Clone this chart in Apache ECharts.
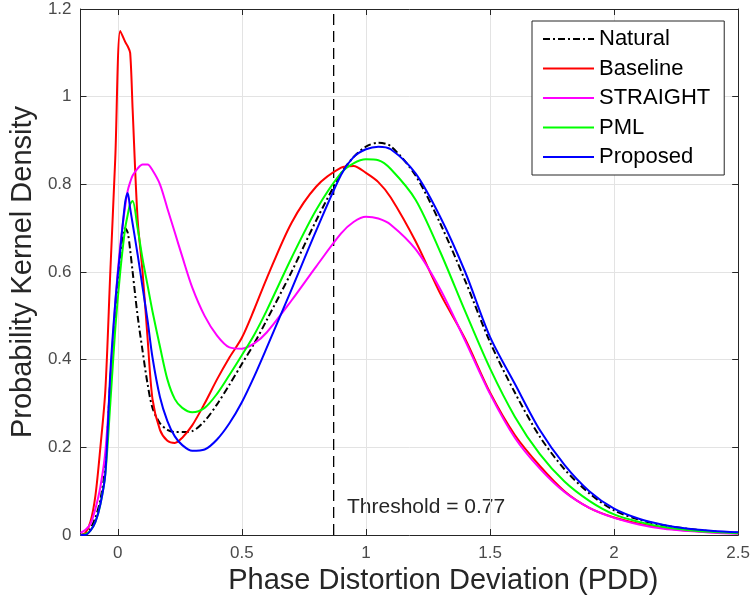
<!DOCTYPE html>
<html><head><meta charset="utf-8">
<script src="https://cdn.jsdelivr.net/npm/echarts@6/dist/echarts.min.js"></script>
<style>html,body{margin:0;padding:0;background:#fff}#c{width:753px;height:608px}</style>
</head><body><div id="c"></div>
<script>
const xs = [-0.15,-0.13,-0.11,-0.09,-0.07,-0.05,-0.03,-0.01,0.01,0.03,0.04,0.05,0.06,0.08,0.1,0.12,0.14,0.17,0.2,0.23,0.26,0.3,0.35,0.4,0.45,0.5,0.55,0.6,0.7,0.8,0.9,0.95,1.0,1.05,1.1,1.2,1.3,1.4,1.5,1.6,1.7,1.8,1.9,2.0,2.1,2.2,2.3,2.4,2.5];
const natural  = [0,0.003,0.015,0.04,0.08,0.16,0.35,0.5,0.64,0.7,0.69,0.65,0.6,0.5,0.42,0.345,0.29,0.255,0.24,0.235,0.235,0.237,0.26,0.298,0.343,0.39,0.437,0.49,0.6,0.718,0.825,0.862,0.886,0.895,0.887,0.82,0.71,0.58,0.44,0.325,0.225,0.15,0.095,0.056,0.035,0.022,0.014,0.008,0.005];
const baseline = [0,0.005,0.03,0.09,0.2,0.33,0.6,0.86,1.15,1.125,1.115,1.1,0.97,0.72,0.6,0.45,0.31,0.24,0.215,0.21,0.222,0.25,0.3,0.355,0.405,0.45,0.515,0.585,0.712,0.795,0.838,0.842,0.826,0.805,0.77,0.67,0.55,0.447,0.325,0.228,0.158,0.1,0.062,0.04,0.026,0.016,0.01,0.006,0.004];
const straight = [0.005,0.012,0.025,0.06,0.11,0.19,0.35,0.53,0.66,0.75,0.785,0.805,0.82,0.836,0.845,0.845,0.832,0.8,0.745,0.69,0.635,0.565,0.5,0.455,0.428,0.425,0.437,0.462,0.535,0.613,0.688,0.714,0.726,0.722,0.708,0.652,0.56,0.443,0.322,0.222,0.152,0.098,0.062,0.039,0.024,0.014,0.009,0.005,0.003];
const pml      = [0,0.002,0.01,0.03,0.07,0.14,0.3,0.47,0.6,0.7,0.73,0.755,0.762,0.7,0.63,0.57,0.51,0.43,0.355,0.31,0.29,0.28,0.29,0.322,0.365,0.41,0.457,0.512,0.632,0.742,0.826,0.848,0.857,0.855,0.835,0.765,0.645,0.51,0.38,0.27,0.185,0.122,0.078,0.047,0.03,0.018,0.011,0.007,0.004];
const proposed = [0,0,0.01,0.03,0.07,0.14,0.37,0.53,0.65,0.76,0.78,0.745,0.71,0.64,0.565,0.49,0.405,0.315,0.26,0.225,0.205,0.192,0.195,0.218,0.255,0.303,0.362,0.427,0.56,0.695,0.822,0.862,0.88,0.886,0.88,0.825,0.725,0.6,0.452,0.345,0.24,0.16,0.1,0.06,0.037,0.023,0.014,0.009,0.006];
const names = ['Natural','Baseline','STRAIGHT','PML','Proposed'];
const colors = ['#000000','#ff0000','#ff00ff','#00ff00','#0000ff'];
const thresholdX = 0.87;
const thresholdText = 'Threshold = 0.77';

const FONT = '"Liberation Sans", Arial, sans-serif';
const all = [natural, baseline, straight, pml, proposed];
const series = all.map((ys, i) => ({
  name: names[i], type: 'line', symbol: 'none', smooth: 0.3,
  data: xs.map((x, j) => [x, ys[j]]),
  lineStyle: { color: colors[i], width: 2, type: i === 0 ? [7,3,2,3] : 'solid' },
  itemStyle: { color: colors[i] },
  z: 3 + i
}));
series.unshift({
  name: 'threshold', type: 'line', symbol: 'none', silent: true,
  data: [[thresholdX, 0], [thresholdX, 1.2]],
  lineStyle: { color: '#000', width: 1.3, type: [11, 6] }, z: 2
});

const axisLineStyle = { show: true, onZero: false, lineStyle: { color: '#262626', width: 1 } };
const tickStyle = { show: true, inside: true, length: 6, lineStyle: { color: '#262626' } };
const chart = echarts.init(document.getElementById('c'));
chart.setOption({
  animation: false,
  backgroundColor: '#fff',
  grid: { left: 77, right: 14, top: 9, bottom: 73, containLabel: false },
  legend: {
    data: names, orient: 'vertical', left: 532, top: 21,
    itemWidth: 51, itemHeight: 14, itemGap: 7.5,
    padding: [7, 14, 7, 10],
    itemStyle: { opacity: 0 },
    backgroundColor: '#fff', borderColor: '#262626', borderWidth: 1,
    textStyle: { fontFamily: FONT, fontSize: 22, color: '#000' }
  },
  xAxis: [{
    type: 'value', min: -0.15, max: 2.5, minInterval: 0.5, maxInterval: 0.5,
    name: 'Phase Distortion Deviation (PDD)', nameLocation: 'middle', nameGap: 28,
    nameTextStyle: { fontFamily: FONT, fontSize: 29, color: '#262626', padding: [0, 0, 0, 68] },
    axisLine: axisLineStyle, axisTick: tickStyle,
    axisLabel: { showMinLabel: false, fontFamily: FONT, fontSize: 17, color: '#4a4a4a', margin: 10 },
    splitLine: { show: true, lineStyle: { color: '#e3e3e3', width: 1 } }
  }, {
    type: 'value', position: 'top', min: -0.15, max: 2.5, minInterval: 0.5, maxInterval: 0.5,
    axisLine: axisLineStyle, axisTick: tickStyle,
    axisLabel: { show: false }, splitLine: { show: false }
  }],
  yAxis: [{
    type: 'value', min: 0, max: 1.2, interval: 0.2,
    name: 'Probability Kernel Density', nameLocation: 'middle', nameGap: 28,
    nameTextStyle: { fontFamily: FONT, fontSize: 29, color: '#262626' },
    axisLine: axisLineStyle, axisTick: tickStyle,
    axisLabel: { fontFamily: FONT, fontSize: 17, color: '#4a4a4a', margin: 9 },
    splitLine: { show: true, lineStyle: { color: '#e3e3e3', width: 1 } }
  }, {
    type: 'value', position: 'right', min: 0, max: 1.2, interval: 0.2,
    axisLine: axisLineStyle, axisTick: tickStyle,
    axisLabel: { show: false }, splitLine: { show: false }
  }],
  series: series,
  graphic: [{
    type: 'text', left: 347, top: 497,
    style: { text: thresholdText, font: '21px ' + FONT, fill: '#262626' }
  }]
});
</script></body></html>
